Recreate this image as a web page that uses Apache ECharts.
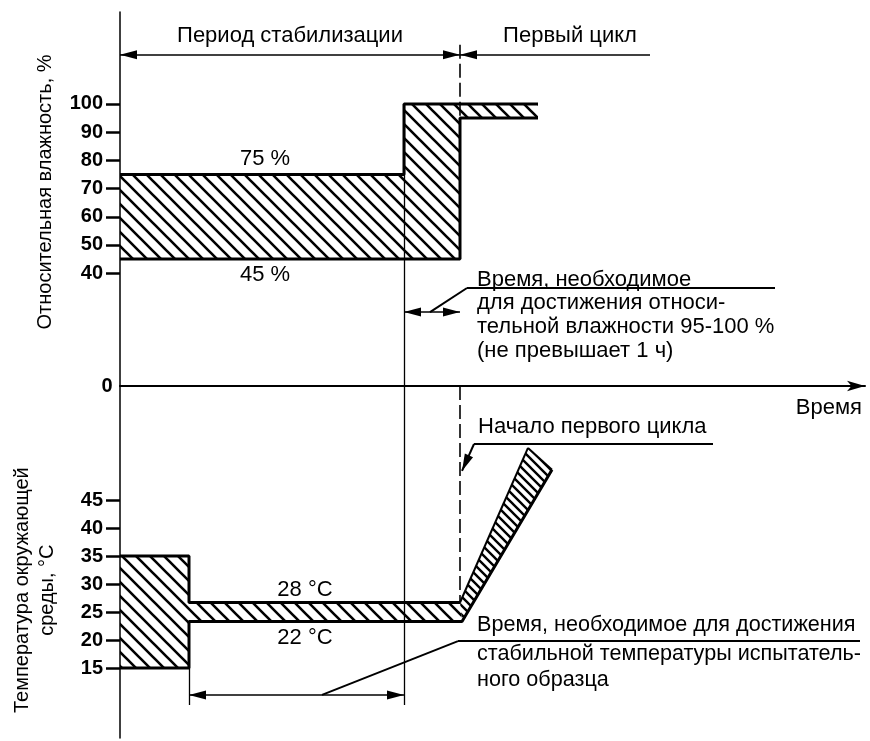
<!DOCTYPE html>
<html>
<head>
<meta charset="utf-8">
<script src="https://cdn.jsdelivr.net/npm/echarts@6/dist/echarts.min.js"></script>
<style>
html, body {margin: 0; padding: 0; background: #fff;}
#chart {width: 870px; height: 741px;}
</style>
</head>
<body>
<div id="chart"></div>
<script>
// время в условных единицах, влажность в %, температура в °C
var humTicks = [40, 50, 60, 70, 80, 90, 100];
var tempTicks = [15, 20, 25, 30, 35, 40, 45];

// границы заштрихованной зоны влажности
var humUpper = [[0, 75], [14.2, 75], [14.2, 100], [20.9, 100]];
var humLower = [[0, 45], [17, 45], [17, 95], [20.9, 95]];

// границы заштрихованной зоны температуры
var tempUpper = [[0, 35], [3.45, 35], [3.45, 26.7], [17, 26.7], [20.4, 54.3]];
var tempLower = [[0, 15], [3.45, 15], [3.45, 23.3], [17.1, 23.3], [21.6, 50.4]];

var FONT = '"Liberation Sans", Arial, sans-serif';
// наконечник: остриё в центре символа
var HEAD = 'path://M0,0 L4.5,17 L-4.5,17 Z M0,-17';

function hatch(step, width) {
    var c = document.createElement('canvas');
    c.width = step;
    c.height = step;
    var g = c.getContext('2d');
    g.strokeStyle = '#000';
    g.lineWidth = width;
    g.beginPath();
    [-step, 0, step].forEach(function (k) {
        g.moveTo(-2, k - 2);
        g.lineTo(step + 2, k + step + 2);
    });
    g.stroke();
    return c;
}

var wide = hatch(14, 2.6);
var dense = hatch(9, 2.4);

var humFill = humUpper.concat(humLower.slice().reverse());
var tempFill = tempUpper.slice(0, 4).concat(tempLower.slice(0, 4).reverse());
var rampFill = [tempUpper[3], tempUpper[4], tempLower[4], tempLower[3]];

function polygon(pts, img, g) {
    return {
        type: 'custom', xAxisIndex: g, yAxisIndex: g, silent: true, data: [0],
        renderItem: function (params, api) {
            return {
                type: 'polygon',
                shape: {points: pts.map(function (p) { return api.coord(p); })},
                style: {fill: {image: img, repeat: 'repeat'}, stroke: null}
            };
        }
    };
}

function edge(pts, g, w) {
    return {
        type: 'line', xAxisIndex: g, yAxisIndex: g, data: pts, showSymbol: false, silent: true,
        lineStyle: {color: '#000', width: w}
    };
}

function segs(list, g, sym, w, type) {
    return {
        type: 'lines', coordinateSystem: 'cartesian2d', xAxisIndex: g, yAxisIndex: g, silent: true,
        symbol: sym, symbolSize: [[9, 34], [9, 34]],
        itemStyle: {color: '#000'},
        lineStyle: {color: '#000', width: w, type: type || 'solid', opacity: 1},
        data: list.map(function (c) { return {coords: c}; })
    };
}

function texts(list, g) {
    return {
        type: 'custom', xAxisIndex: g, yAxisIndex: g, silent: true, data: list.map(function (t, i) { return i; }),
        renderItem: function (params, api) {
            var t = list[params.dataIndex];
            var p = api.coord([t[0], t[1]]);
            return {
                type: 'text', x: p[0], y: p[1], rotation: t[5] || 0,
                style: {
                    text: t[2], align: t[3], verticalAlign: 'middle', fill: '#000',
                    font: (t[4] || '') + ' ' + (t[6] || 22) + 'px ' + FONT, lineHeight: 25
                }
            };
        }
    };
}

// подписи (x, y, текст, выравнивание)
var humNotes = [
    [8.5, 124, 'Период стабилизации', 'center'],
    [22.5, 124, 'Первый цикл', 'center'],
    [7.25, 80.5, '75 %', 'center'],
    [7.25, 39.5, '45 %', 'center'],
    [17.85, 37.6, 'Время, необходимое', 'left'],
    [17.85, 29.3, 'для достижения относи-', 'left'],
    [17.85, 20.9, 'тельной влажности 95-100 %', 'left'],
    [17.85, 12.6, '(не превышает 1 ч)', 'left'],
    [-0.65, -0.3, '0', 'center', 'bold', 0, 20],
    [-3.75, 68.8, 'Относительная влажность, %', 'center', '', Math.PI / 2, 20]
];
var tempNotes = [
    [37.1, 61.4, 'Время', 'right'],
    [17.9, 58, 'Начало первого цикла', 'left'],
    [9.25, 28.9, '28 °C', 'center'],
    [9.25, 20.4, '22 °C', 'center'],
    [17.85, 22.7, 'Время, необходимое для достижения', 'left', '', 0, 21.6],
    [17.85, 17.5, 'стабильной температуры испытатель-', 'left', '', 0, 21.6],
    [17.85, 12.9, 'ного образца', 'left', '', 0, 21.6],
    [-4.25, 28.9, 'Температура окружающей\nсреды, °C', 'center', '', Math.PI / 2, 20]
];

var chart = echarts.init(document.getElementById('chart'));

chart.setOption({
    animation: false,
    grid: [
        {left: 120, top: 12, width: 745, height: 374},
        {left: 120, top: 386, width: 745, height: 352}
    ],
    xAxis: [
        {
            gridIndex: 0, type: 'value', min: 0, max: 37.25,
            axisLine: {show: true, symbol: ['none', 'arrow'], symbolSize: [8, 18], lineStyle: {color: '#000', width: 2}},
            axisTick: {show: false}, axisLabel: {show: false}, splitLine: {show: false}
        },
        {gridIndex: 1, type: 'value', min: 0, max: 37.25, show: false}
    ],
    yAxis: [
        {
            gridIndex: 0, type: 'value', min: 0, max: 132.6,
            axisLine: {show: true, onZero: false, lineStyle: {color: '#000', width: 1.5}},
            axisTick: {show: true, length: 14, customValues: humTicks, lineStyle: {color: '#000', width: 2.5}},
            axisLabel: {customValues: humTicks, margin: 17, color: '#000', fontSize: 20, fontWeight: 'bold', fontFamily: FONT},
            splitLine: {show: false}
        },
        {
            gridIndex: 1, type: 'value', min: 2.5, max: 65.36,
            axisLine: {show: true, onZero: false, lineStyle: {color: '#000', width: 1.5}},
            axisTick: {show: true, length: 14, customValues: tempTicks, lineStyle: {color: '#000', width: 2.5}},
            axisLabel: {customValues: tempTicks, margin: 17, color: '#000', fontSize: 20, fontWeight: 'bold', fontFamily: FONT},
            splitLine: {show: false}
        }
    ],
    series: [
        polygon(humFill, wide, 0),
        polygon(tempFill, wide, 1),
        polygon(rampFill, dense, 1),
        // вспомогательные вертикали
        segs([[[14.2, 100], [14.2, 0]]], 0, ['none', 'none'], 1.3),
        segs([[[14.2, 65.36], [14.2, 8.4]], [[3.45, 15], [3.45, 8.4]]], 1, ['none', 'none'], 1.3),
        segs([[[17, 121], [17, 45]]], 0, ['none', 'none'], 1.6, [14, 5]),
        segs([[[17, 65.36], [17, 26.7]]], 1, ['none', 'none'], 1.6, [14, 5]),
        // размерные стрелки
        segs([[[0, 117.4], [17, 117.4]], [[14.2, 26.2], [17, 26.2]]], 0, [HEAD, HEAD], 1.6),
        segs([[[26.5, 117.4], [17, 117.4]]], 0, ['none', HEAD], 1.6),
        segs([[[15.5, 26.2], [17.35, 34.75]], [[17.35, 34.75], [32.75, 34.75]]], 0, ['none', 'none'], 2),
        segs([[[3.45, 10.2], [14.2, 10.2]]], 1, [HEAD, HEAD], 1.6),
        segs([[[10.1, 10.2], [16.9, 19.8]], [[16.9, 19.8], [37, 19.8]], [[29.65, 55], [17.7, 55]]], 1, ['none', 'none'], 2),
        segs([[[17.7, 55], [17.1, 50.2]]], 1, ['none', HEAD], 2),
        // контуры зон
        edge(humUpper, 0, 3),
        edge(humLower, 0, 3),
        edge(tempUpper.slice(0, 4), 1, 3),
        edge(tempLower, 1, 3),
        edge(tempUpper.slice(3), 1, 2),
        edge([tempUpper[4], tempLower[4]], 1, 2),
        texts(humNotes, 0),
        texts(tempNotes, 1)
    ]
});
</script>
</body>
</html>
